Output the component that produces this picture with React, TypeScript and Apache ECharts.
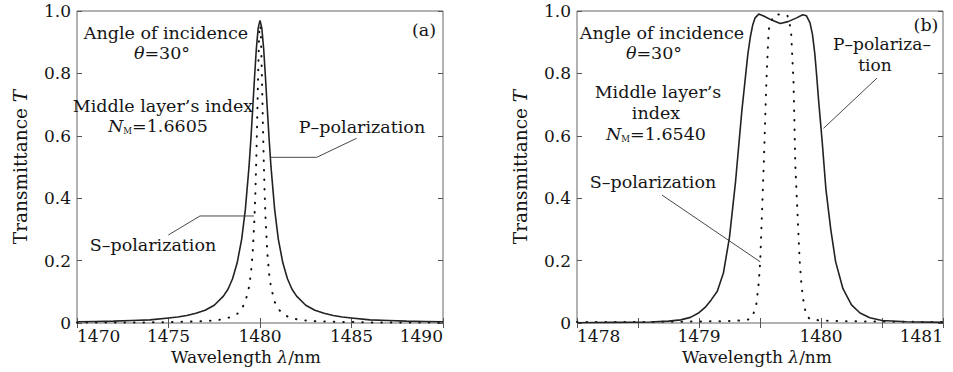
import React, { useEffect, useRef } from 'react';
import * as echarts from 'echarts';

const FONT = '"DejaVu Serif", "Liberation Serif", serif';
const INK = '#151515';

// ---------- Panel (a): N_M = 1.6605 ----------
const waveA_P = [1470, 1471, 1472, 1473, 1474, 1475, 1475.5, 1476, 1476.5, 1477, 1477.5, 1478, 1478.25, 1478.5, 1478.75, 1479, 1479.2, 1479.4, 1479.5, 1479.6, 1479.7, 1479.8, 1479.9, 1480, 1480.1, 1480.2, 1480.3, 1480.4, 1480.5, 1480.6, 1480.8, 1481, 1481.25, 1481.5, 1481.75, 1482, 1482.5, 1483, 1483.5, 1484, 1484.5, 1485, 1486, 1487, 1488, 1489, 1490];
const transA_P = [0.004, 0.005, 0.006, 0.008, 0.010, 0.016, 0.019, 0.024, 0.031, 0.041, 0.057, 0.086, 0.108, 0.142, 0.192, 0.269, 0.364, 0.501, 0.588, 0.685, 0.786, 0.879, 0.945, 0.970, 0.945, 0.879, 0.786, 0.685, 0.588, 0.501, 0.364, 0.269, 0.192, 0.142, 0.108, 0.086, 0.057, 0.041, 0.031, 0.024, 0.019, 0.016, 0.010, 0.008, 0.006, 0.005, 0.004];
const waveA_S = [1470, 1472, 1474, 1475, 1476, 1477, 1477.5, 1478, 1478.5, 1478.75, 1479, 1479.2, 1479.4, 1479.5, 1479.6, 1479.7, 1479.75, 1479.8, 1479.85, 1479.9, 1479.95, 1480, 1480.05, 1480.1, 1480.15, 1480.2, 1480.25, 1480.3, 1480.4, 1480.5, 1480.6, 1480.8, 1481, 1481.25, 1481.5, 1482, 1482.5, 1483, 1484, 1485, 1486, 1488, 1490];
const transA_S = [0.001, 0.002, 0.002, 0.003, 0.004, 0.006, 0.008, 0.012, 0.021, 0.029, 0.045, 0.068, 0.115, 0.157, 0.225, 0.339, 0.423, 0.531, 0.662, 0.804, 0.922, 0.970, 0.922, 0.804, 0.662, 0.531, 0.423, 0.339, 0.225, 0.157, 0.115, 0.068, 0.045, 0.029, 0.021, 0.012, 0.008, 0.006, 0.004, 0.003, 0.002, 0.002, 0.001];

// ---------- Panel (b): N_M = 1.6540 ----------
const waveB_P = [1478, 1478.3, 1478.6, 1478.75, 1478.85, 1478.93, 1479.0, 1479.05, 1479.1, 1479.15, 1479.2, 1479.25, 1479.3, 1479.35, 1479.4, 1479.42, 1479.44, 1479.46, 1479.49, 1479.53, 1479.6, 1479.667, 1479.73, 1479.8, 1479.85, 1479.88, 1479.91, 1479.93, 1479.95, 1479.965, 1479.98, 1480.01, 1480.04, 1480.08, 1480.12, 1480.18, 1480.25, 1480.32, 1480.4, 1480.5, 1480.7, 1481];
const transB_P = [0.001, 0.002, 0.003, 0.006, 0.010, 0.018, 0.033, 0.050, 0.074, 0.102, 0.160, 0.275, 0.455, 0.675, 0.860, 0.915, 0.955, 0.978, 0.990, 0.984, 0.970, 0.960, 0.966, 0.978, 0.988, 0.985, 0.962, 0.925, 0.860, 0.790, 0.715, 0.580, 0.430, 0.300, 0.196, 0.110, 0.058, 0.032, 0.017, 0.008, 0.004, 0.002];
const waveB_S = [1478, 1478.5, 1478.8, 1479.0, 1479.2, 1479.35, 1479.42, 1479.443, 1479.47, 1479.49, 1479.502, 1479.53, 1479.552, 1479.571, 1479.61, 1479.667, 1479.725, 1479.754, 1479.775, 1479.79, 1479.825, 1479.84, 1479.86, 1479.88, 1479.91, 1480.0, 1480.15, 1480.4, 1480.7, 1481];
const transB_S = [0.003, 0.003, 0.004, 0.005, 0.006, 0.008, 0.012, 0.025, 0.060, 0.130, 0.200, 0.500, 0.770, 0.940, 0.985, 0.990, 0.985, 0.940, 0.770, 0.500, 0.200, 0.120, 0.060, 0.025, 0.012, 0.008, 0.006, 0.005, 0.004, 0.003];

// axis ranges / ticks
const xRangeA = [1470, 1490];
const xStepA = 5;
const xRangeB = [1478, 1481];
const xStepB = 0.5;
const yRange = [0, 1];
const yStep = 0.2;

// leader lines (data coordinates)
const leaderA_P = [[1480.58, 0.531], [1483.10, 0.531], [1485.28, 0.592]];
const leaderA_S = [[1474.99, 0.282], [1476.72, 0.343], [1479.67, 0.343]];
const leaderB_P = [[1480.459, 0.785], [1480.021, 0.624]];
const leaderB_S = [[1478.697, 0.41], [1479.502, 0.196]];

const zip = (xs: number[], ys: number[]) => xs.map((x, i) => [x, ys[i]]);

const TS = 17.5; // annotation font size

const richStyles = (size: number) => ({
  i: { fontStyle: 'italic', fontSize: size, fontFamily: FONT, color: INK, lineHeight: 18, verticalAlign: 'middle' },
  s: { fontSize: 8.5, fontFamily: FONT, color: INK, lineHeight: 4, verticalAlign: 'bottom' },
  n: { fontSize: size, fontFamily: FONT, color: INK, lineHeight: 18, verticalAlign: 'middle' },
});

const axisRich = (size: number) => ({
  i: { fontStyle: 'italic', fontSize: size, fontFamily: FONT, color: INK },
});

const txt = (x: number, y: number, text: string, size = TS) => ({
  type: 'text',
  x,
  y,
  silent: true,
  z: 20,
  style: {
    text,
    fill: INK,
    fontSize: size,
    fontFamily: FONT,
    align: 'center',
    verticalAlign: 'middle',
    rich: richStyles(size),
  },
});

const gridStyle = { show: true, borderColor: '#666', borderWidth: 1, backgroundColor: 'transparent' };

const isInt = (v: number) => Math.abs(v - Math.round(v)) < 1e-6;

function xAxes(gi: number, range: number[], step: number, namePad: number[]) {
  const base = {
    gridIndex: gi,
    type: 'value',
    min: range[0],
    max: range[1],
    interval: step,
    axisLine: { show: false },
    splitLine: { show: false },
    axisTick: { show: true, inside: true, length: 5, lineStyle: { color: '#555', width: 1 } },
  };
  return [
    {
      ...base,
      position: 'bottom',
      axisLabel: {
        show: true,
        fontFamily: FONT,
        fontSize: 17,
        color: INK,
        margin: 4,
        alignMinLabel: 'left',
        alignMaxLabel: 'right',
        formatter: (v: number) => (isInt(v) ? String(Math.round(v)) : ''),
      },
      name: 'Wavelength {i|λ}/nm',
      nameLocation: 'middle',
      nameGap: 24,
      nameTextStyle: { fontFamily: FONT, fontSize: 17, color: INK, padding: namePad, rich: axisRich(17) },
    },
    { ...base, position: 'top', axisLabel: { show: false } },
  ];
}

function yAxes(gi: number) {
  const base = {
    gridIndex: gi,
    type: 'value',
    min: yRange[0],
    max: yRange[1],
    interval: yStep,
    axisLine: { show: false },
    splitLine: { show: false },
    axisTick: { show: true, inside: true, length: 5, lineStyle: { color: '#555', width: 1 } },
  };
  return [
    {
      ...base,
      position: 'left',
      axisLabel: {
        show: true,
        fontFamily: FONT,
        fontSize: 17,
        color: INK,
        margin: 6,
        formatter: (v: number) => (v === 0 ? '0' : v.toFixed(1)),
      },
      name: 'Transmittance {i|T}',
      nameLocation: 'middle',
      nameGap: 47,
      nameTextStyle: { fontFamily: FONT, fontSize: 18.5, color: INK, rich: axisRich(18.5) },
    },
    { ...base, position: 'right', axisLabel: { show: false } },
  ];
}

const solid = (xi: number, yi: number, data: number[][]) => ({
  type: 'line',
  xAxisIndex: xi,
  yAxisIndex: yi,
  data,
  symbol: 'none',
  silent: true,
  lineStyle: { color: '#222', width: 1.6 },
  z: 3,
});

const dotted = (xi: number, yi: number, data: number[][]) => ({
  type: 'line',
  xAxisIndex: xi,
  yAxisIndex: yi,
  data,
  symbol: 'none',
  silent: true,
  lineStyle: { color: '#111', width: 2, type: [0.5, 9], cap: 'round' },
  z: 2,
});

const leader = (xi: number, yi: number, data: number[][]) => ({
  type: 'line',
  xAxisIndex: xi,
  yAxisIndex: yi,
  data,
  symbol: 'none',
  silent: true,
  lineStyle: { color: '#333', width: 0.9 },
  z: 4,
});

const option = {
  animation: false,
  backgroundColor: '#fff',
  grid: [
    { left: 77, top: 11, width: 366, height: 312, ...gridStyle },
    { left: 577, top: 11, width: 366, height: 312, ...gridStyle },
  ],
  xAxis: [
    ...xAxes(0, xRangeA, xStepA, [0, 28, 0, 0]),
    ...xAxes(1, xRangeB, xStepB, [0, 6, 0, 0]),
  ],
  yAxis: [...yAxes(0), ...yAxes(1)],
  series: [
    solid(0, 0, zip(waveA_P, transA_P)),
    dotted(0, 0, zip(waveA_S, transA_S)),
    leader(0, 0, leaderA_P),
    leader(0, 0, leaderA_S),
    solid(2, 2, zip(waveB_P, transB_P)),
    dotted(2, 2, zip(waveB_S, transB_S)),
    leader(2, 2, leaderB_P),
    leader(2, 2, leaderB_S),
  ],
  graphic: [
    txt(166, 33, 'Angle of incidence'),
    txt(162, 53, '{i|θ}{n|=30°}'),
    txt(163, 106, 'Middle layer’s index'),
    txt(158, 126, '{i|N}{s|M}{n|=1.6605}'),
    txt(424, 30, '(a)'),
    txt(362, 127, 'P–polarization'),
    txt(153, 245, 'S–polarization'),

    txt(662, 33, 'Angle of incidence'),
    txt(654, 53, '{i|θ}{n|=30°}'),
    txt(658, 92, 'Middle layer’s'),
    txt(656, 113, 'index'),
    txt(656, 134, '{i|N}{s|M}{n|=1.6540}'),
    txt(926, 25, '(b)'),
    txt(882, 44, 'P–polariza–', 17),
    txt(875, 65, 'tion', 17),
    txt(653, 182, 'S–polarization'),
  ],
};

export default function App() {
  const ref = useRef<HTMLDivElement>(null);
  useEffect(() => {
    if (!ref.current) return;
    const chart = echarts.init(ref.current, null, { renderer: 'svg' });
    chart.setOption(option as any);
    return () => chart.dispose();
  }, []);
  return (
    <div
      ref={ref}
      style={{ position: 'fixed', left: 0, top: 0, width: 953, height: 372, background: '#fff' }}
    />
  );
}
